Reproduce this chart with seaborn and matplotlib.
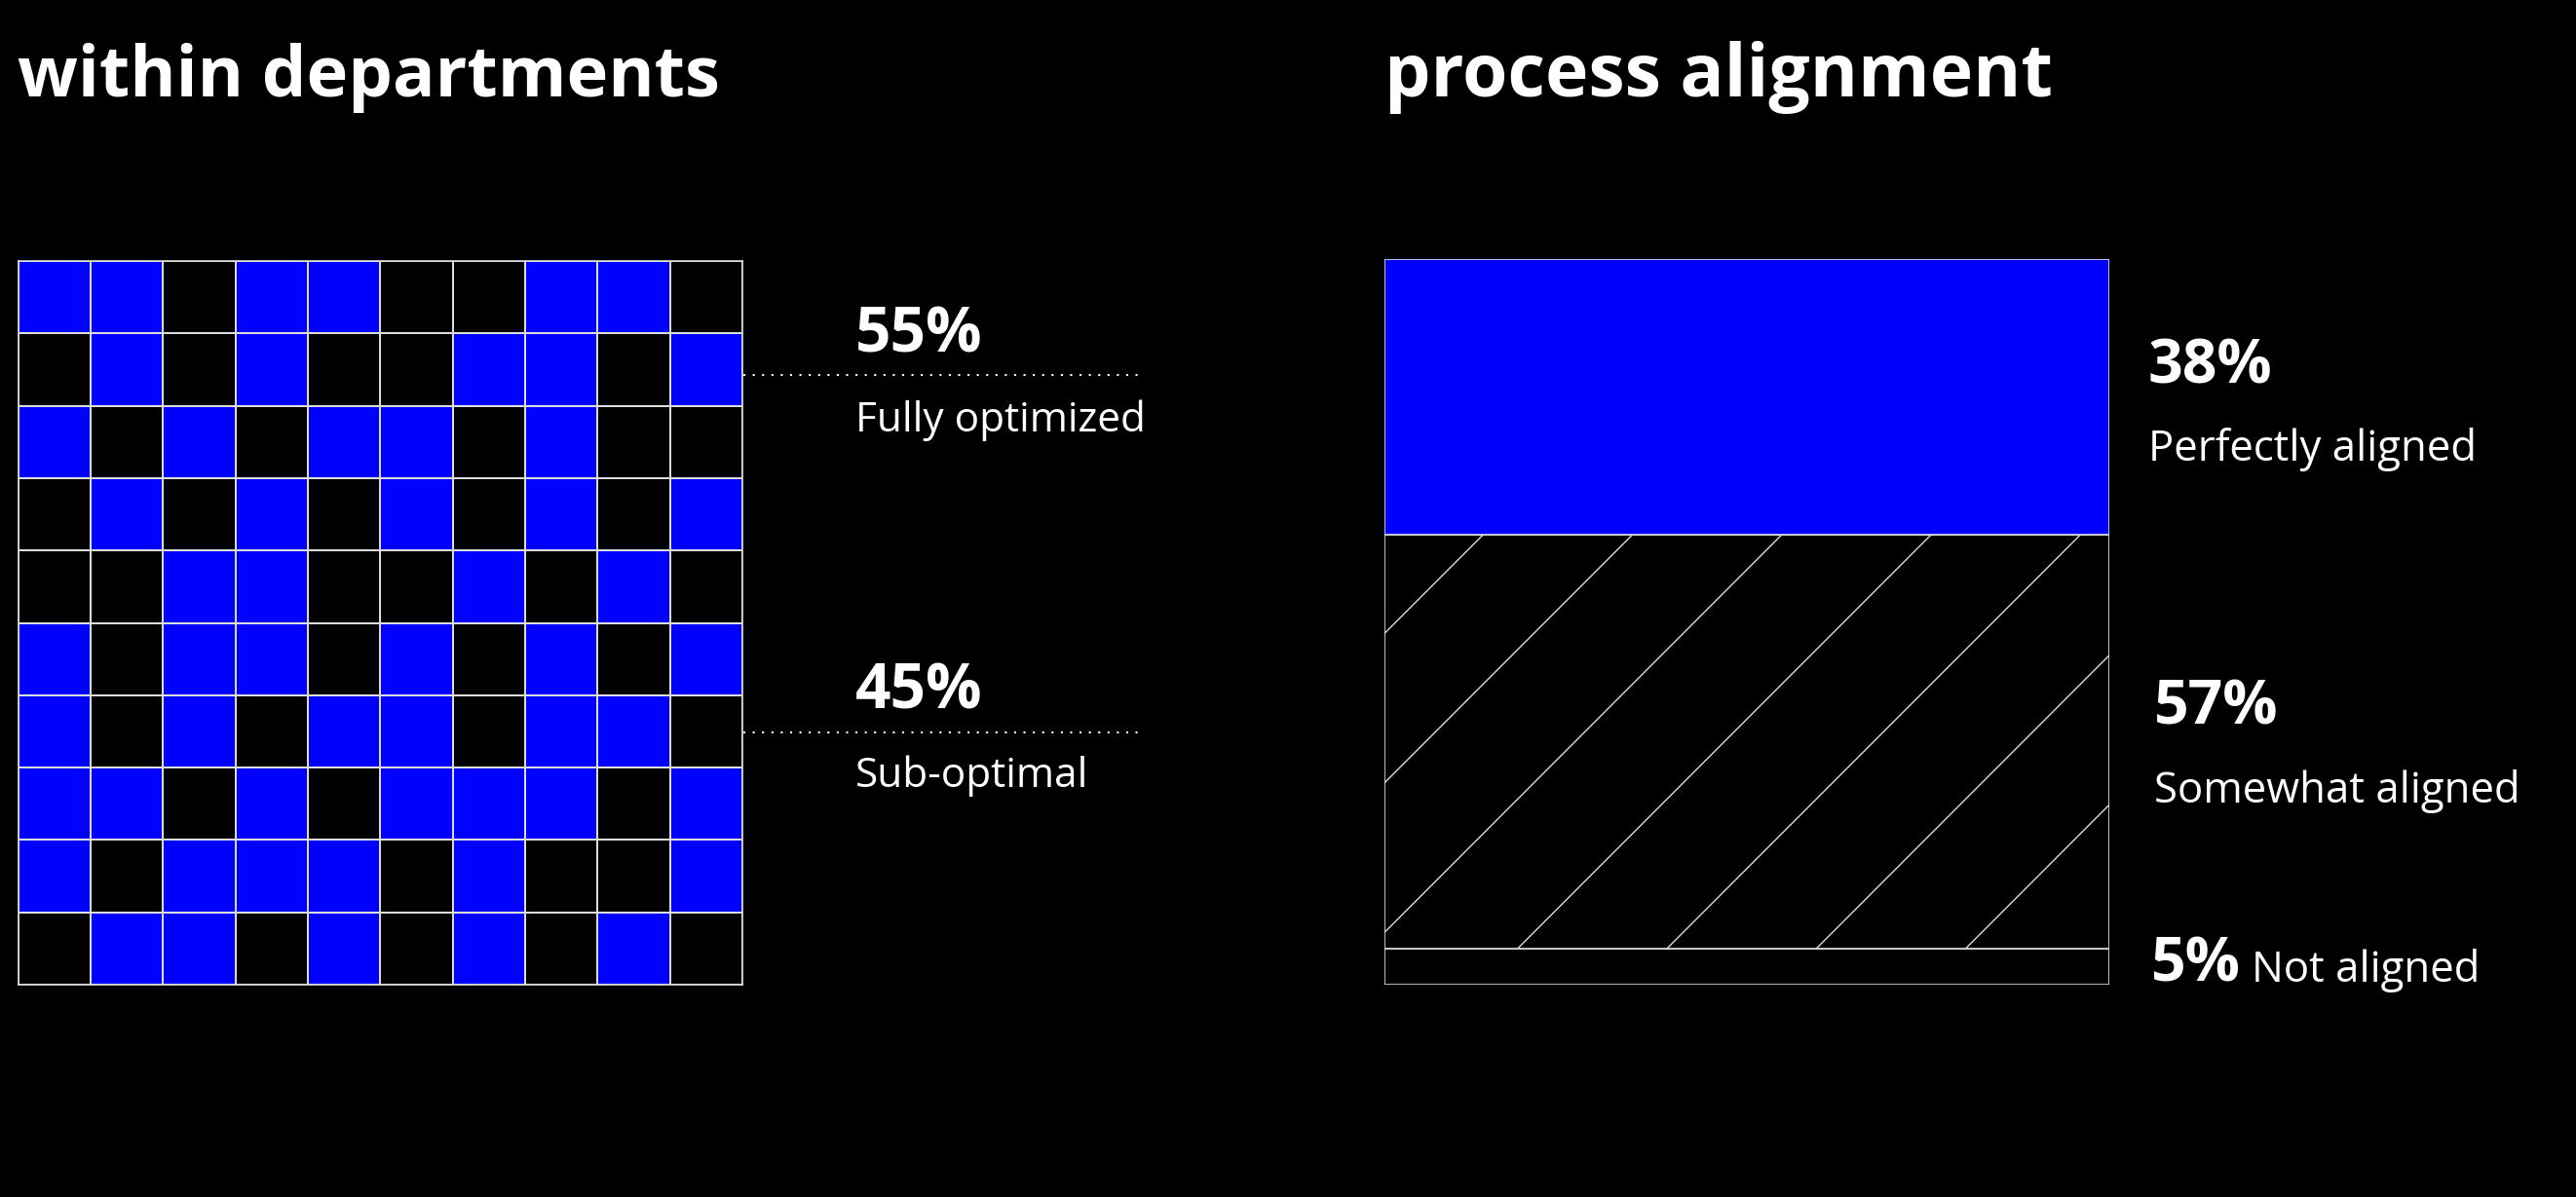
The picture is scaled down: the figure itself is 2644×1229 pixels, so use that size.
import numpy as np
import matplotlib
matplotlib.use('Agg')
import matplotlib.pyplot as plt
from matplotlib.colors import ListedColormap
from matplotlib.lines import Line2D
import seaborn as sns

# 10 x 10 grid of departments: 1 = fully optimized, 0 = sub-optimal
row_01 = [1, 1, 0, 1, 1, 0, 0, 1, 1, 0]
row_02 = [0, 1, 0, 1, 0, 0, 1, 1, 0, 1]
row_03 = [1, 0, 1, 0, 1, 1, 0, 1, 0, 0]
row_04 = [0, 1, 0, 1, 0, 1, 0, 1, 0, 1]
row_05 = [0, 0, 1, 1, 0, 0, 1, 0, 1, 0]
row_06 = [1, 0, 1, 1, 0, 1, 0, 1, 0, 1]
row_07 = [1, 0, 1, 0, 1, 1, 0, 1, 1, 0]
row_08 = [1, 1, 0, 1, 0, 1, 1, 1, 0, 1]
row_09 = [1, 0, 1, 1, 1, 0, 1, 0, 0, 1]
row_10 = [0, 1, 1, 0, 1, 0, 1, 0, 1, 0]

opt_labels = ['Fully optimized', 'Sub-optimal']
opt_values = [55, 45]

align_labels = ['Not aligned', 'Somewhat aligned', 'Perfectly aligned']
align_values = [5, 57, 38]

titles = ['within departments', 'process alignment']

BLUE = '#0000ff'
EDGE = '#dcdcdc'
W, H = 2644, 1229

sns.set_theme(style='white')
plt.rcParams['font.family'] = ['Open Sans', 'DejaVu Sans']


def px(x, y):
    return x / W, 1 - y / H


fig = plt.figure(figsize=(W / 100, H / 100), dpi=100, facecolor='black')

# left panel: heatmap grid
ax1 = fig.add_axes([18.5 / W, 1 - 1011 / H, 743.5 / W, 743 / H])
grid = np.array([row_01, row_02, row_03, row_04, row_05,
                 row_06, row_07, row_08, row_09, row_10])
sns.heatmap(grid, cmap=ListedColormap(['black', BLUE]), cbar=False,
            linewidths=1.2, linecolor=EDGE, xticklabels=False,
            yticklabels=False, square=False, ax=ax1)
for s in ax1.spines.values():
    s.set_visible(True)
    s.set_color(EDGE)
    s.set_linewidth(1.2)

# leaders + labels
for ly, (lab, val), nb, lb in zip([385, 752], zip(opt_labels, opt_values),
                                  [362, 728], [443, 808]):
    x0, y0 = px(763, ly)
    x1, _ = px(1168, ly)
    fig.add_artist(Line2D([x0, x1], [y0, y0], color='white', lw=1.5,
                          linestyle=(0, (1, 3.6))))
    fig.text(*px(878, nb), f'{val}%', color='white', fontsize=46,
             fontweight='bold', va='baseline')
    fig.text(*px(878, lb), lab, color='white', fontsize=30.5, va='baseline')

# right panel: stacked bar
ax2 = fig.add_axes([1421 / W, 1 - 1011 / H, 744 / W, 745 / H])
ax2.set_facecolor('black')
bottoms = np.cumsum([0] + align_values[:-1])
fills = ['black', 'black', BLUE]
bars = ax2.bar([50] * 3, align_values, width=100, bottom=bottoms,
               color=fills, edgecolor=EDGE, linewidth=1.2)
ax2.set_xlim(0, 100)
ax2.set_ylim(0, 100)
ax2.axis('off')

# diagonal hatch inside the middle segment
hatch_patch = bars[1]
for c in np.arange(13.4 - 20.6 * 5, 100, 20.6):
    ln, = ax2.plot([-10, 120], [-10 - c, 120 - c], color=EDGE, lw=1.0)
    ln.set_clip_path(hatch_patch)

num_pos = [(2208, 1008), (2211, 744), (2205, 394)]
lab_pos = [(2311, 1008), (2211, 824), (2205, 473)]
for lab, val, (nx, ny), (lx, ly) in zip(align_labels, align_values, num_pos, lab_pos):
    fig.text(*px(nx, ny), f'{val}%', color='white', fontsize=45,
             fontweight='bold', va='baseline')
    fig.text(*px(lx, ly), lab, color='white', fontsize=31.5, va='baseline')

# titles (first line sits above the frame)
fig.text(*px(18, 99), titles[0], color='white', fontsize=52,
         fontweight='bold', va='baseline')
fig.text(*px(1421, 99), titles[1], color='white', fontsize=54,
         fontweight='bold', va='baseline')

fig.savefig('out.png', dpi=100, facecolor='black')
